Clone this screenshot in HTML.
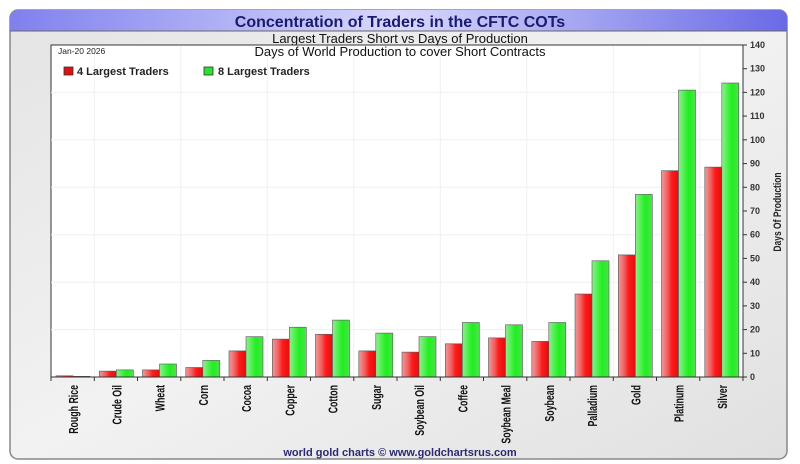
<!DOCTYPE html>
<html><head><meta charset="utf-8"><style>
html,body{margin:0;padding:0;background:#fff;width:800px;height:464px;overflow:hidden}
svg{display:block;font-family:"Liberation Sans",sans-serif}
</style></head><body>
<svg width="800" height="464" viewBox="0 0 800 464" xmlns="http://www.w3.org/2000/svg">
<defs>
<linearGradient id="pan" x1="0" y1="0" x2="1" y2="1"><stop offset="0" stop-color="#e4e4e4"/><stop offset="0.5" stop-color="#f2f2f2"/><stop offset="1" stop-color="#e0e0e0"/></linearGradient>
<linearGradient id="hdr" x1="0" y1="0" x2="1" y2="0"><stop offset="0" stop-color="#8080ee"/><stop offset="0.5" stop-color="#d8d8fc"/><stop offset="1" stop-color="#6a6ae6"/></linearGradient>
<linearGradient id="r" x1="0" y1="0" x2="1" y2="0"><stop offset="0" stop-color="#f29a9a"/><stop offset="0.35" stop-color="#f06060"/><stop offset="0.6" stop-color="#ff1a1a"/><stop offset="1" stop-color="#e01010"/></linearGradient>
<linearGradient id="g" x1="0" y1="0" x2="1" y2="0"><stop offset="0" stop-color="#90ee90"/><stop offset="0.4" stop-color="#40f040"/><stop offset="0.6" stop-color="#20ee20"/><stop offset="1" stop-color="#50e050"/></linearGradient>
</defs>
<rect x="10" y="10" width="777" height="449" rx="8" fill="url(#pan)" stroke="#888" stroke-width="1.5"/>
<path d="M18 10 H779 A8 8 0 0 1 787 18 V31 H10 V18 A8 8 0 0 1 18 10Z" fill="url(#hdr)"/>
<line x1="10" y1="31" x2="787" y2="31" stroke="#666"/>
<text x="400" y="27" text-anchor="middle" font-size="16" font-weight="bold" fill="#1a1a6e">Concentration of Traders in the CFTC COTs</text>
<text x="400" y="43" text-anchor="middle" font-size="13" fill="#111">Largest Traders Short vs Days of Production</text>
<rect x="51" y="45" width="692" height="332" fill="#fff" stroke="#333"/>
<g stroke="#eef0f2" stroke-width="1">
<line x1="51" y1="92.4" x2="743" y2="92.4"/><line x1="51" y1="139.8" x2="743" y2="139.8"/><line x1="51" y1="187.3" x2="743" y2="187.3"/><line x1="51" y1="234.7" x2="743" y2="234.7"/><line x1="51" y1="282.2" x2="743" y2="282.2"/><line x1="51" y1="329.6" x2="743" y2="329.6"/>
<line x1="94.3" y1="46" x2="94.3" y2="377"/><line x1="180.8" y1="46" x2="180.8" y2="377"/><line x1="267.3" y1="46" x2="267.3" y2="377"/><line x1="353.8" y1="46" x2="353.8" y2="377"/><line x1="440.3" y1="46" x2="440.3" y2="377"/><line x1="526.8" y1="46" x2="526.8" y2="377"/><line x1="613.3" y1="46" x2="613.3" y2="377"/><line x1="699.8" y1="46" x2="699.8" y2="377"/>
</g>
<text x="400" y="56" text-anchor="middle" font-size="13" fill="#111">Days of World Production to cover Short Contracts</text>
<text x="58" y="54" font-size="8.5" fill="#222">Jan-20  2026</text>
<rect x="64" y="67" width="9" height="8" fill="#e01010" stroke="#333" stroke-width="0.8"/>
<text x="77" y="75" font-size="11" font-weight="bold" fill="#222">4 Largest Traders</text>
<rect x="204" y="67" width="9" height="8" fill="#30e030" stroke="#333" stroke-width="0.8"/>
<text x="218" y="75" font-size="11" font-weight="bold" fill="#222">8 Largest Traders</text>
<g stroke="#555" stroke-width="0.6">
<rect x="56" y="375.8" width="17" height="1.2" fill="url(#r)"/><rect x="73" y="376.3" width="17" height="0.7" fill="url(#g)"/>
<rect x="99.3" y="371.1" width="17" height="5.9" fill="url(#r)"/><rect x="116.3" y="369.9" width="17" height="7.1" fill="url(#g)"/>
<rect x="142.5" y="369.9" width="17" height="7.1" fill="url(#r)"/><rect x="159.5" y="364" width="17" height="13" fill="url(#g)"/>
<rect x="185.8" y="367.5" width="17" height="9.5" fill="url(#r)"/><rect x="202.8" y="360.4" width="17" height="16.6" fill="url(#g)"/>
<rect x="229" y="350.9" width="17" height="26.1" fill="url(#r)"/><rect x="246" y="336.7" width="17" height="40.3" fill="url(#g)"/>
<rect x="272.3" y="339.1" width="17" height="37.9" fill="url(#r)"/><rect x="289.3" y="327.2" width="17" height="49.8" fill="url(#g)"/>
<rect x="315.5" y="334.3" width="17" height="42.7" fill="url(#r)"/><rect x="332.5" y="320.1" width="17" height="56.9" fill="url(#g)"/>
<rect x="358.8" y="350.9" width="17" height="26.1" fill="url(#r)"/><rect x="375.8" y="333.1" width="17" height="43.9" fill="url(#g)"/>
<rect x="402" y="352.1" width="17" height="24.9" fill="url(#r)"/><rect x="419" y="336.7" width="17" height="40.3" fill="url(#g)"/>
<rect x="445.3" y="343.8" width="17" height="33.2" fill="url(#r)"/><rect x="462.3" y="322.5" width="17" height="54.5" fill="url(#g)"/>
<rect x="488.5" y="337.9" width="17" height="39.1" fill="url(#r)"/><rect x="505.5" y="324.8" width="17" height="52.2" fill="url(#g)"/>
<rect x="531.8" y="341.4" width="17" height="35.6" fill="url(#r)"/><rect x="548.8" y="322.5" width="17" height="54.5" fill="url(#g)"/>
<rect x="575" y="294" width="17" height="83" fill="url(#r)"/><rect x="592" y="260.8" width="17" height="116.2" fill="url(#g)"/>
<rect x="618.3" y="254.9" width="17" height="122.1" fill="url(#r)"/><rect x="635.3" y="194.4" width="17" height="182.6" fill="url(#g)"/>
<rect x="661.5" y="170.7" width="17" height="206.3" fill="url(#r)"/><rect x="678.5" y="90.1" width="17" height="286.9" fill="url(#g)"/>
<rect x="704.8" y="167.1" width="17" height="209.9" fill="url(#r)"/><rect x="721.8" y="83" width="17" height="294" fill="url(#g)"/>
</g>
<line x1="51" y1="377" x2="743" y2="377" stroke="#333"/>
<g stroke="#333">
<line x1="51" y1="377" x2="51" y2="381"/><line x1="94.3" y1="377" x2="94.3" y2="381"/><line x1="137.5" y1="377" x2="137.5" y2="381"/><line x1="180.8" y1="377" x2="180.8" y2="381"/><line x1="224" y1="377" x2="224" y2="381"/><line x1="267.3" y1="377" x2="267.3" y2="381"/><line x1="310.5" y1="377" x2="310.5" y2="381"/><line x1="353.8" y1="377" x2="353.8" y2="381"/><line x1="397" y1="377" x2="397" y2="381"/><line x1="440.3" y1="377" x2="440.3" y2="381"/><line x1="483.5" y1="377" x2="483.5" y2="381"/><line x1="526.8" y1="377" x2="526.8" y2="381"/><line x1="570" y1="377" x2="570" y2="381"/><line x1="613.3" y1="377" x2="613.3" y2="381"/><line x1="656.5" y1="377" x2="656.5" y2="381"/><line x1="699.8" y1="377" x2="699.8" y2="381"/><line x1="743" y1="377" x2="743" y2="381"/>
</g>
<g font-size="9" font-weight="bold" fill="#333">
<line x1="743" y1="45" x2="743" y2="377" stroke="#333"/>
<g stroke="#333"><line x1="743" y1="45" x2="747" y2="45"/><line x1="743" y1="68.7" x2="747" y2="68.7"/><line x1="743" y1="92.4" x2="747" y2="92.4"/><line x1="743" y1="116.1" x2="747" y2="116.1"/><line x1="743" y1="139.8" x2="747" y2="139.8"/><line x1="743" y1="163.6" x2="747" y2="163.6"/><line x1="743" y1="187.3" x2="747" y2="187.3"/><line x1="743" y1="211" x2="747" y2="211"/><line x1="743" y1="234.7" x2="747" y2="234.7"/><line x1="743" y1="258.4" x2="747" y2="258.4"/><line x1="743" y1="282.2" x2="747" y2="282.2"/><line x1="743" y1="305.9" x2="747" y2="305.9"/><line x1="743" y1="329.6" x2="747" y2="329.6"/><line x1="743" y1="353.3" x2="747" y2="353.3"/><line x1="743" y1="377" x2="747" y2="377"/></g>
<text x="750" y="48">140</text><text x="750" y="71.7">130</text><text x="750" y="95.4">120</text><text x="750" y="119.1">110</text><text x="750" y="142.8">100</text><text x="750" y="166.6">90</text><text x="750" y="190.3">80</text><text x="750" y="214">70</text><text x="750" y="237.7">60</text><text x="750" y="261.4">50</text><text x="750" y="285.2">40</text><text x="750" y="308.9">30</text><text x="750" y="332.6">20</text><text x="750" y="356.3">10</text><text x="750" y="380">0</text>
</g>
<text transform="translate(781,212) rotate(-90) scale(0.85,1.1)" text-anchor="middle" font-size="10" font-weight="bold" fill="#222">Days Of Production</text>
<g font-size="11" font-weight="bold" fill="#111" text-anchor="end">
<text transform="translate(78,385) rotate(-90) scale(0.8,1.15)">Rough Rice</text>
<text transform="translate(121.3,385) rotate(-90) scale(0.8,1.15)">Crude Oil</text>
<text transform="translate(164.5,385) rotate(-90) scale(0.8,1.15)">Wheat</text>
<text transform="translate(207.8,385) rotate(-90) scale(0.8,1.15)">Corn</text>
<text transform="translate(251,385) rotate(-90) scale(0.8,1.15)">Cocoa</text>
<text transform="translate(294.3,385) rotate(-90) scale(0.8,1.15)">Copper</text>
<text transform="translate(337.5,385) rotate(-90) scale(0.8,1.15)">Cotton</text>
<text transform="translate(380.8,385) rotate(-90) scale(0.8,1.15)">Sugar</text>
<text transform="translate(424,385) rotate(-90) scale(0.8,1.15)">Soybean Oil</text>
<text transform="translate(467.3,385) rotate(-90) scale(0.8,1.15)">Coffee</text>
<text transform="translate(510.5,385) rotate(-90) scale(0.8,1.15)">Soybean Meal</text>
<text transform="translate(553.8,385) rotate(-90) scale(0.8,1.15)">Soybean</text>
<text transform="translate(597,385) rotate(-90) scale(0.8,1.15)">Palladium</text>
<text transform="translate(640.3,385) rotate(-90) scale(0.8,1.15)">Gold</text>
<text transform="translate(683.5,385) rotate(-90) scale(0.8,1.15)">Platinum</text>
<text transform="translate(726.8,385) rotate(-90) scale(0.8,1.15)">Silver</text>
</g>
<text x="400" y="456" text-anchor="middle" font-size="11" font-weight="bold" fill="#2a2a70">world gold charts © www.goldchartsrus.com</text>
</svg>
</body></html>
